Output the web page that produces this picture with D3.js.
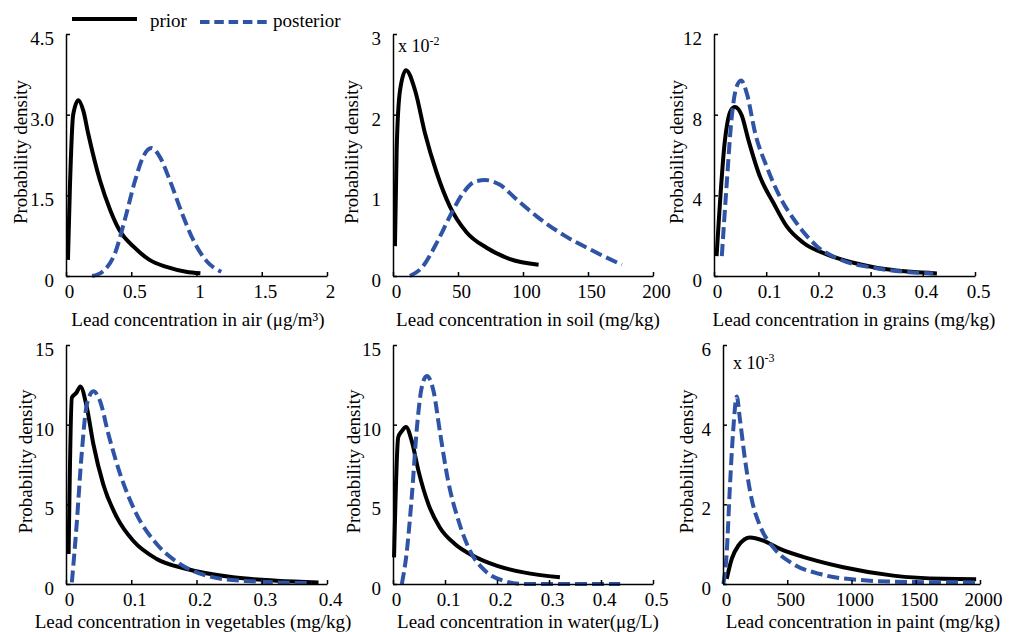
<!DOCTYPE html>
<html>
<head>
<meta charset="utf-8">
<script src="https://cdn.jsdelivr.net/npm/d3@7"></script>
<style>
  body { margin: 0; background: #fff; }
</style>
</head>
<body>
<svg width="1011" height="632"></svg>
<script>
// values, [x, density]
const AIR_PRIOR = [[0.015,0.3],[0.03,1.65],[0.055,3.0],[0.095,3.27],[0.133,3.07],[0.17,2.65],[0.26,1.78],[0.34,1.22],[0.41,0.85],[0.52,0.54],[0.64,0.30],[0.77,0.17],[0.92,0.08],[1.03,0.05]];
const AIR_POST = [[0.2,0],[0.28,0.08],[0.375,0.42],[0.45,1.04],[0.53,1.78],[0.59,2.21],[0.655,2.38],[0.72,2.21],[0.80,1.75],[0.89,1.16],[0.975,0.67],[1.08,0.27],[1.19,0.08]];

const SOIL_PRIOR = [[1.5,0.37],[2.8,1.56],[5.4,2.3],[10,2.55],[17,2.3],[24.6,1.77],[33.6,1.28],[43.8,0.86],[56.7,0.54],[72,0.35],[90,0.21],[112,0.14]];
const SOIL_POST = [[13,0],[22,0.10],[33.6,0.41],[43.8,0.74],[54,1.03],[63,1.17],[70.8,1.19],[82.3,1.13],[95,0.95],[110.5,0.74],[131,0.51],[151.5,0.33],[176,0.14]];

const GRAIN_PRIOR = [[0.005,0.99],[0.021,6.74],[0.032,8.2],[0.04,8.38],[0.053,7.97],[0.066,6.74],[0.088,4.93],[0.114,3.62],[0.139,2.47],[0.171,1.65],[0.216,1.07],[0.267,0.66],[0.331,0.33],[0.427,0.13]];
const GRAIN_POST = [[0.015,0.99],[0.024,4.44],[0.034,7.89],[0.043,9.37],[0.052,9.7],[0.063,9.04],[0.079,7.07],[0.101,5.42],[0.126,3.94],[0.158,2.63],[0.197,1.48],[0.241,0.82],[0.305,0.41],[0.42,0.13]];

const VEG_PRIOR = [[0.004,1.88],[0.009,11.7],[0.016,12.0],[0.022,12.4],[0.032,11.07],[0.042,8.77],[0.057,6.27],[0.078,4.18],[0.103,2.71],[0.139,1.57],[0.185,0.94],[0.256,0.42],[0.323,0.21],[0.387,0.10]];
const VEG_POST = [[0.009,0.1],[0.016,3.55],[0.024,8.15],[0.032,11.28],[0.042,12.1],[0.052,11.5],[0.065,9.4],[0.083,6.9],[0.108,4.39],[0.139,2.51],[0.175,1.25],[0.216,0.52],[0.267,0.21],[0.377,0.05]];

const WATER_PRIOR = [[0.002,1.67],[0.010,9.19],[0.017,9.6],[0.025,9.86],[0.036,8.98],[0.049,7.1],[0.068,5.01],[0.09,3.55],[0.119,2.51],[0.154,1.77],[0.199,1.15],[0.251,0.73],[0.321,0.42]];
const WATER_POST = [[0.017,0],[0.026,1.88],[0.036,5.43],[0.046,9.81],[0.055,12.3],[0.065,13.05],[0.078,12.1],[0.09,9.6],[0.106,6.47],[0.126,3.97],[0.148,2.09],[0.177,0.83],[0.212,0.21],[0.251,0],[0.437,0]];

const PAINT_PRIOR = [[29,0.13],[68,0.63],[119,0.96],[210,1.17],[314,1.09],[444,0.88],[677,0.63],[936,0.42],[1325,0.21],[1714,0.13],[1970,0.12]];
const PAINT_POST = [[3,0],[29,0.79],[54,2.46],[80,3.88],[107,4.71],[132,4.13],[171,3.13],[223,2.13],[288,1.46],[391,0.92],[547,0.5],[755,0.25],[1066,0.1],[1455,0.05],[1970,0.04]];

// axis ticks
const X_TICKS = [
  [0, 0.5, 1, 1.5, 2],
  [0, 50, 100, 150, 200],
  [0, 0.1, 0.2, 0.3, 0.4, 0.5],
  [0, 0.1, 0.2, 0.3, 0.4],
  [0, 0.1, 0.2, 0.3, 0.4, 0.5],
  [0, 500, 1000, 1500, 2000],
];
const Y_TICKS = [
  [0, 1.5, 3, 4.5],
  [0, 1, 2, 3],
  [0, 4, 8, 12],
  [0, 5, 10, 15],
  [0, 5, 10, 15],
  [0, 2, 4, 6],
];
const X_LABELS = [
  'Lead concentration in air (\u03bcg/m\u00b3)',
  'Lead concentration in soil (mg/kg)',
  'Lead concentration in grains (mg/kg)',
  'Lead concentration in vegetables (mg/kg)',
  'Lead concentration in water(\u03bcg/L)',
  'Lead concentration in paint (mg/kg)',
];
const EXPONENTS = [null, '-2', null, null, null, '-3'];
const SERIES_NAMES = ['prior', 'posterior'];

// pixel layout of each panel
const LAYOUT = [
  {left: 66,  right: 327, top: 34,  bottom: 276, ylabX: 27,  xlabX: 198, xlabY: 326},
  {left: 393, right: 653, top: 34,  bottom: 276, ylabX: 358, xlabX: 528, xlabY: 326, expX: 398, expY: 52},
  {left: 714, right: 975, top: 34,  bottom: 276, ylabX: 683, xlabX: 854, xlabY: 326},
  {left: 66,  right: 327, top: 345, bottom: 584, ylabX: 32,  xlabX: 193, xlabY: 628},
  {left: 393, right: 653, top: 345, bottom: 584, ylabX: 360, xlabX: 528, xlabY: 628},
  {left: 723, right: 980, top: 345, bottom: 584, ylabX: 693, xlabX: 863, xlabY: 628, expX: 733, expY: 369},
];

const SERIES = [
  [AIR_PRIOR, AIR_POST],
  [SOIL_PRIOR, SOIL_POST],
  [GRAIN_PRIOR, GRAIN_POST],
  [VEG_PRIOR, VEG_POST],
  [WATER_PRIOR, WATER_POST],
  [PAINT_PRIOR, PAINT_POST],
];

const FONT = '"Liberation Serif", "Times New Roman", Times, "DejaVu Serif", serif';
const BLUE = '#2f54a6';
const svg = d3.select('svg').style('font-family', FONT);

function label(sel, size) {
  return sel.style('font-family', FONT).style('font-size', size + 'px').attr('fill', '#000');
}

SERIES.forEach((pair, i) => {
  const L = LAYOUT[i];
  const xt = X_TICKS[i], yt = Y_TICKS[i];
  const x = d3.scaleLinear().domain([0, xt[xt.length - 1]]).range([L.left, L.right]);
  const y = d3.scaleLinear().domain([0, yt[yt.length - 1]]).range([L.bottom, L.top]);
  const g = svg.append('g');

  const line = d3.line().x(d => x(d[0])).y(d => y(d[1])).curve(d3.curveMonotoneX);

  // prior - solid black, posterior - dashed blue
  g.append('path')
    .datum(pair[0])
    .attr('d', line)
    .attr('fill', 'none')
    .attr('stroke', '#000')
    .attr('stroke-width', 4)
    .attr('stroke-linejoin', 'round');
  g.append('path')
    .datum(pair[1])
    .attr('d', line)
    .attr('fill', 'none')
    .attr('stroke', BLUE)
    .attr('stroke-width', 4)
    .attr('stroke-dasharray', '12,5');

  const xAxis = g.append('g')
    .attr('transform', `translate(0,${L.bottom})`)
    .call(d3.axisBottom(x).tickValues(xt).tickSizeInner(-4).tickSizeOuter(0).tickFormat(d3.format('')));
  label(xAxis.selectAll('text').attr('y', 9).attr('x', 3), 19);

  const yFmt = i === 0 ? (d => d === 0 ? '0' : d.toFixed(1)) : d3.format('');
  const yAxis = g.append('g')
    .attr('transform', `translate(${L.left},0)`)
    .call(d3.axisLeft(y).tickValues(yt).tickSizeInner(-4).tickSizeOuter(0).tickFormat(yFmt));
  label(yAxis.selectAll('text').attr('x', -12).attr('dy', '0.55em'), 19);

  [xAxis, yAxis].forEach(a => {
    a.attr('font-family', null);
    a.select('.domain').attr('stroke', '#000').attr('stroke-width', 1.5);
    a.selectAll('.tick line').attr('stroke', '#000').attr('stroke-width', 1.5);
  });

  label(g.append('text'), 19)
    .attr('transform', `translate(${L.ylabX},${(L.top + L.bottom) / 2 - 3}) rotate(-90)`)
    .attr('text-anchor', 'middle')
    .text('Probability density');

  label(g.append('text'), 19)
    .attr('x', L.xlabX)
    .attr('y', L.xlabY)
    .attr('text-anchor', 'middle')
    .text(X_LABELS[i]);

  if (EXPONENTS[i]) {
    const t = label(g.append('text'), 18)
      .attr('x', L.expX)
      .attr('y', L.expY);
    t.append('tspan').text('x 10');
    t.append('tspan').attr('dy', -7).style('font-size', '12px').text(EXPONENTS[i]);
  }
});

// legend
const legend = svg.append('g');
legend.append('line')
  .attr('x1', 72).attr('x2', 137).attr('y1', 19).attr('y2', 19)
  .attr('stroke', '#000').attr('stroke-width', 4);
label(legend.append('text'), 19).attr('x', 150).attr('y', 27).text(SERIES_NAMES[0]);
legend.append('line')
  .attr('x1', 200).attr('x2', 267).attr('y1', 22).attr('y2', 22)
  .attr('stroke', BLUE).attr('stroke-width', 4).attr('stroke-dasharray', '9.5,4.8');
label(legend.append('text'), 19).attr('x', 273).attr('y', 27).text(SERIES_NAMES[1]);
</script>
</body>
</html>
